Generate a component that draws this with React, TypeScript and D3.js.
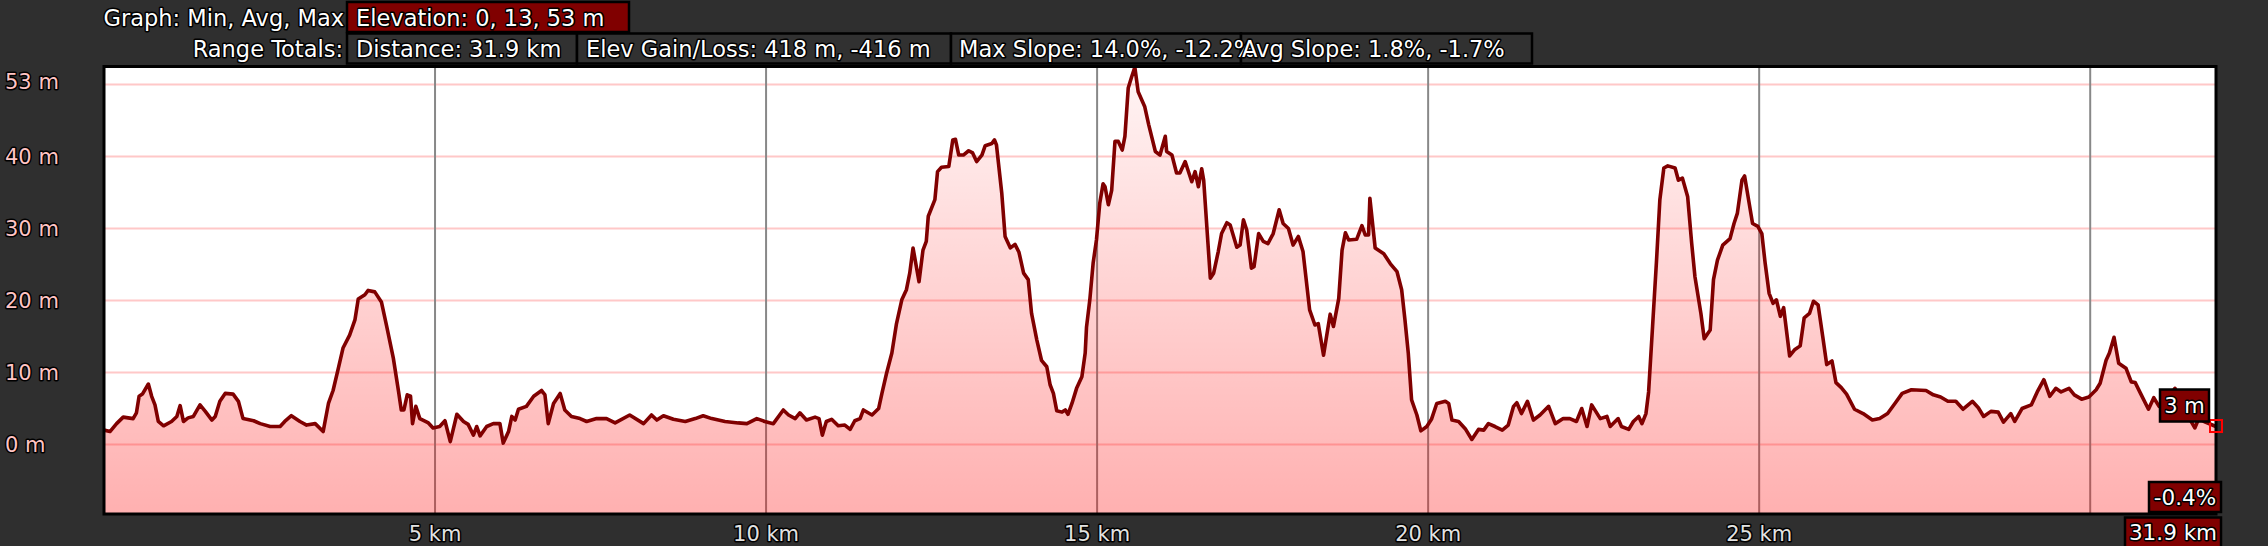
import * as d3 from "d3";

// elevation profile (km, m)
const distKm = [
  0.0, 0.09, 0.19, 0.29, 0.44, 0.49, 0.53, 0.58, 0.67, 0.72, 0.77, 0.82, 0.9, 1.02, 1.1, 1.15, 1.2, 1.27, 1.35, 1.45,
  1.53, 1.63, 1.68, 1.75, 1.83, 1.95, 2.03, 2.1, 2.26, 2.36, 2.51, 2.66, 2.73, 2.83, 2.96, 3.06, 3.19, 3.31, 3.39, 3.46,
  3.54, 3.61, 3.71, 3.79, 3.84, 3.94, 3.99, 4.09, 4.19, 4.27, 4.37, 4.45, 4.49, 4.53, 4.58, 4.63, 4.66, 4.71, 4.77, 4.9,
  4.97, 5.07, 5.15, 5.23, 5.33, 5.43, 5.5, 5.58, 5.63, 5.68, 5.78, 5.88, 5.98, 6.03, 6.11, 6.16, 6.21, 6.26, 6.38, 6.49,
  6.61, 6.66, 6.71, 6.79, 6.89, 6.96, 7.06, 7.19, 7.29, 7.44, 7.59, 7.72, 7.94, 8.15, 8.27, 8.35, 8.45, 8.6, 8.78, 8.93,
  9.05, 9.18, 9.38, 9.58, 9.71, 9.86, 9.98, 10.11, 10.26, 10.34, 10.44, 10.51, 10.61, 10.74, 10.8, 10.85, 10.91, 10.99, 11.09, 11.19,
  11.27, 11.34, 11.42, 11.47, 11.6, 11.7, 11.75, 11.82, 11.9, 11.97, 12.05, 12.12, 12.17, 12.22, 12.31, 12.37, 12.42, 12.45, 12.55, 12.59,
  12.65, 12.76, 12.82, 12.86, 12.91, 12.98, 13.06, 13.12, 13.18, 13.26, 13.31, 13.41, 13.45, 13.48, 13.56, 13.61, 13.69, 13.76, 13.82, 13.89,
  13.96, 14.01, 14.09, 14.16, 14.24, 14.29, 14.34, 14.39, 14.47, 14.52, 14.56, 14.62, 14.69, 14.77, 14.82, 14.84, 14.89, 14.94, 14.99, 15.04,
  15.09, 15.12, 15.17, 15.22, 15.27, 15.32, 15.38, 15.42, 15.47, 15.52, 15.57, 15.62, 15.72, 15.78, 15.88, 15.95, 16.03, 16.05, 16.13, 16.2,
  16.25, 16.33, 16.43, 16.48, 16.53, 16.58, 16.61, 16.71, 16.76, 16.83, 16.88, 16.96, 17.01, 17.11, 17.16, 17.21, 17.26, 17.33, 17.37, 17.44,
  17.51, 17.58, 17.66, 17.75, 17.81, 17.89, 17.96, 18.04, 18.11, 18.21, 18.29, 18.34, 18.42, 18.52, 18.57, 18.65, 18.7, 18.75, 18.8, 18.92,
  19.0, 19.05, 19.1, 19.12, 19.2, 19.33, 19.43, 19.53, 19.6, 19.65, 19.7, 19.75, 19.83, 19.89, 19.98, 20.05, 20.13, 20.26, 20.31, 20.36,
  20.46, 20.56, 20.66, 20.76, 20.84, 20.91, 21.01, 21.12, 21.21, 21.29, 21.34, 21.41, 21.5, 21.59, 21.69, 21.82, 21.92, 22.04, 22.14, 22.24,
  22.32, 22.4, 22.47, 22.6, 22.7, 22.75, 22.87, 22.92, 23.03, 23.1, 23.18, 23.23, 23.29, 23.33, 23.39, 23.45, 23.5, 23.56, 23.62, 23.73,
  23.78, 23.84, 23.92, 23.98, 24.03, 24.12, 24.17, 24.26, 24.31, 24.37, 24.45, 24.56, 24.62, 24.67, 24.74, 24.78, 24.84, 24.9, 24.98, 25.04,
  25.09, 25.15, 25.21, 25.26, 25.32, 25.37, 25.46, 25.54, 25.62, 25.68, 25.76, 25.82, 25.89, 25.96, 26.02, 26.1, 26.16, 26.24, 26.32, 26.44,
  26.57, 26.71, 26.82, 26.94, 27.05, 27.16, 27.3, 27.52, 27.63, 27.74, 27.85, 27.97, 28.08, 28.22, 28.31, 28.39, 28.5, 28.61, 28.69, 28.8,
  28.86, 28.97, 29.11, 29.2, 29.3, 29.39, 29.48, 29.56, 29.68, 29.76, 29.87, 29.98, 30.09, 30.15, 30.24, 30.29, 30.36, 30.43, 30.54, 30.62,
  30.68, 30.76, 30.88, 30.96, 31.04, 31.15, 31.28, 31.4, 31.5, 31.58, 31.64, 31.72, 31.9,
];

const elevM = [
  2.0, 1.8, 2.9, 3.8, 3.6, 4.4, 6.7, 7.0, 8.4, 6.7, 5.5, 3.2, 2.6, 3.2, 3.9, 5.4, 3.2, 3.7, 3.9, 5.5,
  4.6, 3.4, 3.9, 6.0, 7.1, 7.0, 6.0, 3.6, 3.3, 2.9, 2.5, 2.5, 3.2, 4.0, 3.2, 2.7, 2.9, 1.8, 5.7, 7.5,
  10.6, 13.4, 15.2, 17.3, 20.2, 20.8, 21.4, 21.2, 19.8, 16.4, 12.0, 7.3, 4.8, 4.8, 6.9, 6.7, 2.9, 5.3, 3.6, 3.0,
  2.3, 2.5, 3.3, 0.4, 4.2, 3.2, 2.8, 1.3, 2.5, 1.2, 2.5, 2.9, 2.9, 0.2, 1.8, 3.9, 3.4, 4.9, 5.3, 6.7,
  7.5, 6.9, 2.9, 5.7, 7.1, 4.8, 3.9, 3.6, 3.2, 3.6, 3.6, 3.0, 4.1, 2.9, 4.1, 3.4, 4.0, 3.5, 3.2, 3.6,
  4.0, 3.6, 3.2, 3.0, 2.9, 3.6, 3.2, 2.9, 4.8, 4.1, 3.6, 4.4, 3.4, 3.8, 3.6, 1.3, 3.2, 3.5, 2.6, 2.7,
  2.1, 3.3, 3.6, 4.8, 4.1, 5.0, 7.1, 9.9, 12.7, 16.8, 20.1, 21.5, 23.8, 27.3, 22.6, 27.0, 28.2, 31.7, 34.0, 37.9,
  38.5, 38.6, 42.3, 42.4, 40.2, 40.2, 40.8, 40.5, 39.3, 40.2, 41.5, 41.8, 42.3, 41.6, 34.9, 28.9, 27.3, 27.8, 26.7, 23.8,
  22.9, 18.2, 14.5, 11.7, 10.8, 8.3, 7.1, 4.7, 4.5, 4.8, 4.2, 5.7, 7.8, 9.4, 12.7, 16.3, 20.1, 25.2, 28.4, 33.5,
  36.2, 35.8, 33.3, 35.3, 42.1, 42.1, 40.9, 42.8, 49.5, 51.0, 52.4, 49.0, 46.9, 44.4, 40.7, 40.2, 42.8, 40.7, 40.2, 37.7,
  37.7, 39.3, 36.5, 37.9, 35.8, 38.3, 36.7, 23.1, 23.8, 26.8, 29.3, 30.8, 30.5, 27.4, 27.7, 31.2, 29.8, 24.5, 24.7, 29.3,
  28.2, 27.9, 29.3, 32.6, 30.7, 30.0, 27.7, 28.9, 26.8, 18.7, 16.6, 16.8, 12.4, 18.1, 16.4, 20.3, 27.0, 29.4, 28.4, 28.5,
  30.4, 29.1, 29.1, 34.2, 27.3, 26.5, 25.1, 24.0, 21.5, 17.3, 12.7, 6.2, 4.1, 1.9, 2.5, 3.5, 5.7, 6.0, 5.7, 3.4,
  3.2, 2.2, 0.7, 2.1, 2.0, 2.9, 2.5, 2.0, 2.7, 5.3, 5.8, 4.3, 6.0, 3.4, 4.1, 5.3, 2.9, 3.6, 3.6, 3.2,
  5.0, 2.5, 5.5, 3.6, 3.9, 2.5, 3.6, 2.5, 2.1, 3.2, 3.9, 2.9, 4.3, 7.3, 16.4, 25.6, 34.0, 38.4, 38.7, 38.4,
  36.7, 37.0, 34.4, 28.0, 23.3, 18.2, 14.7, 15.9, 22.9, 25.6, 27.7, 28.6, 30.7, 32.1, 36.7, 37.3, 34.0, 30.7, 30.3, 29.3,
  25.2, 21.0, 19.6, 20.1, 17.8, 19.0, 12.3, 13.2, 13.7, 17.6, 18.2, 19.9, 19.4, 15.0, 11.1, 11.6, 8.6, 7.9, 7.0, 4.9,
  4.3, 3.4, 3.6, 4.3, 5.7, 7.1, 7.6, 7.5, 6.9, 6.6, 6.0, 6.0, 4.9, 6.0, 5.1, 3.9, 4.6, 4.5, 3.1, 4.3,
  3.2, 5.0, 5.5, 7.3, 9.0, 6.7, 7.8, 7.3, 7.8, 6.9, 6.3, 6.6, 7.6, 8.5, 11.7, 12.7, 14.9, 11.3, 10.6, 8.7,
  8.6, 7.1, 4.9, 6.5, 5.3, 6.0, 7.8, 5.5, 3.6, 2.3, 3.6, 3.2, 2.5,
];

const xTicks = [5, 10, 15, 20, 25, 30];
const xTickLabels = ["5 km", "10 km", "15 km", "20 km", "25 km", ""];
const yTicks = [0, 10, 20, 30, 40, 50];
const yTickLabels = ["0 m", "10 m", "20 m", "30 m", "40 m", "53 m"];

const graphLabel = "Graph: Min, Avg, Max";
const elevSummary = "Elevation: 0, 13, 53 m";
const totalsLabel = "Range Totals:";
const rangeTotals = ["Distance: 31.9 km", "Elev Gain/Loss: 418 m, -416 m", "Max Slope: 14.0%, -12.2%", "Avg Slope: 1.8%, -1.7%"];
const endElevLabel = "3 m";
const endSlopeLabel = "-0.4%";
const endDistLabel = "31.9 km";

const W = 2268;
const H = 546;
const plot = { left: 104, right: 2216, top: 67, bottom: 514 };
const bg = "#2f2f2f";
const font = "'DejaVu Sans', Verdana, sans-serif";

// header boxes [x, width, text x]
const totalsBoxes = [
  [347, 230, 356],
  [577, 374, 586],
  [951, 290, 959],
  [1241, 291, 1242],
];

const Outlined = ({ x, y, children, fill = "#fff", size = 21, anchor = "start", baseline = "auto" }: any) => (
  <text
    x={x}
    y={y}
    fill={fill}
    fontSize={size}
    fontFamily={font}
    textAnchor={anchor}
    dominantBaseline={baseline}
    stroke="#000"
    strokeWidth={3}
    strokeLinejoin="round"
    paintOrder="stroke"
  >
    {children}
  </text>
);

export default function App() {
  const pts = distKm.map((d, i) => ({ km: d, m: elevM[i] }));

  const x = d3.scaleLinear().domain([0, 31.9]).range([plot.left, plot.right]);
  const y = d3.scaleLinear().domain([-9.65, 52.43]).range([plot.bottom, plot.top]);

  const area = d3
    .area<{ km: number; m: number }>()
    .x((d) => x(d.km))
    .y0(plot.bottom)
    .y1((d) => y(d.m));

  const line = d3
    .line<{ km: number; m: number }>()
    .x((d) => x(d.km))
    .y((d) => y(d.m));

  const last = pts[pts.length - 1];
  const ex = x(last.km);
  const ey = y(last.m);

  return (
    <svg width={W} height={H} style={{ position: "absolute", left: 0, top: 0, display: "block" }}>
      <defs>
        <linearGradient id="areaGrad" gradientUnits="userSpaceOnUse" x1={0} y1={plot.top} x2={0} y2={plot.bottom}>
          <stop offset="0" stopColor="#ff0000" stopOpacity={0.04} />
          <stop offset="1" stopColor="#ff0000" stopOpacity={0.31} />
        </linearGradient>
        <clipPath id="plotClip">
          <rect x={plot.left} y={plot.top} width={plot.right - plot.left} height={plot.bottom - plot.top} />
        </clipPath>
      </defs>

      <rect x={0} y={0} width={W} height={H} fill={bg} />

      {/* header */}
      <Outlined x={344} y={25.5} anchor="end" size={22.5}>
        {graphLabel}
      </Outlined>
      <rect x={347} y={2} width={282} height={30} fill="#800000" stroke="#000" strokeWidth={2.5} />
      <Outlined x={356} y={25.5} size={22.5}>
        {elevSummary}
      </Outlined>

      <Outlined x={343} y={56.5} anchor="end" size={22.5}>
        {totalsLabel}
      </Outlined>
      {totalsBoxes.map(([bx, bw], i) => (
        <rect key={i} x={bx} y={33.5} width={bw} height={30} fill="#313131" stroke="#000" strokeWidth={2.5} />
      ))}
      {rangeTotals.map((t, i) => (
        <Outlined key={t} x={totalsBoxes[i][2]} y={56.5} size={22.5}>
          {t}
        </Outlined>
      ))}

      {/* plot */}
      <rect x={plot.left} y={plot.top} width={plot.right - plot.left} height={plot.bottom - plot.top} fill="#fff" />
      <g clipPath="url(#plotClip)">
        {yTicks.map((t) => (
          <line key={t} x1={plot.left} x2={plot.right} y1={y(t)} y2={y(t)} stroke="#ffc8c8" strokeWidth={2} />
        ))}
        {xTicks.map((t) => (
          <line key={t} x1={x(t)} x2={x(t)} y1={plot.top} y2={plot.bottom} stroke="#888" strokeWidth={2} />
        ))}
        <path d={area(pts) || ""} fill="url(#areaGrad)" />
        <path d={line(pts) || ""} fill="none" stroke="#800000" strokeWidth={3.6} strokeLinejoin="round" />
      </g>
      <rect
        x={plot.left}
        y={plot.top - 0.5}
        width={plot.right - plot.left}
        height={plot.bottom - plot.top + 0.5}
        fill="none"
        stroke="#000"
        strokeWidth={3}
      />

      {/* y axis labels */}
      {yTicks.map((t, i) => (
        <Outlined key={t} x={5} y={y(t) + (i === yTicks.length - 1 ? -2 : 0)} fill="#ffc4c4" size={21} baseline="central">
          {yTickLabels[i]}
        </Outlined>
      ))}

      {/* x axis labels */}
      {xTicks.map((t, i) =>
        xTickLabels[i] ? (
          <Outlined key={t} x={x(t)} y={541} fill="#e2e2e2" size={21} anchor="middle">
            {xTickLabels[i]}
          </Outlined>
        ) : null
      )}

      {/* end of track markers */}
      <rect x={ex - 6} y={ey - 6.5} width={12} height={12} fill="none" stroke="#ff0000" strokeWidth={2} />
      <rect x={ex - 56} y={ey - 37} width={49} height={32} fill="#800000" stroke="#000" strokeWidth={2.5} />
      <Outlined x={ex - 31.5} y={ey - 21} anchor="middle" baseline="central" size={21}>
        {endElevLabel}
      </Outlined>
      <rect x={plot.right - 67} y={482} width={72} height={30} fill="#800000" stroke="#000" strokeWidth={2.5} />
      <Outlined x={plot.right - 31} y={497.5} anchor="middle" baseline="central" size={21.5}>
        {endSlopeLabel}
      </Outlined>
      <rect x={plot.right - 91} y={517.5} width={96} height={30} fill="#800000" stroke="#000" strokeWidth={2.5} />
      <Outlined x={plot.right - 43} y={532.5} anchor="middle" baseline="central" size={21.5}>
        {endDistLabel}
      </Outlined>
    </svg>
  );
}
